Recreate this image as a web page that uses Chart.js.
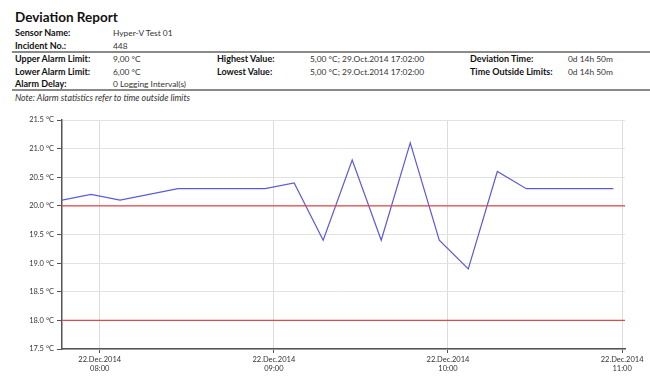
<!DOCTYPE html>
<html>
<head>
<meta charset="utf-8">
<script src="https://cdn.jsdelivr.net/npm/chart.js@4/dist/chart.umd.min.js"></script>
<style>
  html, body { margin: 0; padding: 0; background: #fff; }
  body { width: 650px; height: 388px; position: relative; overflow: hidden; font-family: Lato, "Open Sans", sans-serif; color: #222; }
  .t { position: absolute; white-space: nowrap; font-size: 8.4px; line-height: 10px; color: #333; }
  .b { font-weight: bold; font-size: 9px; color: #111; }
  #title { position: absolute; left: 15px; top: 8px; font-size: 13.5px; font-weight: bold; line-height: 18px; color: #111; }
  .rule { position: absolute; left: 12px; right: 0; height: 2px; background: #8a8a8a; }
  #wrap { position: absolute; left: 0; top: 100px; width: 650px; height: 288px; }
</style>
</head>
<body>
<div id="title">Deviation Report</div>

<div class="t b" style="left:15px;top:28px">Sensor Name:</div>
<div class="t" style="left:113px;top:28px">Hyper-V Test 01</div>
<div class="t b" style="left:15px;top:41px">Incident No.:</div>
<div class="t" style="left:113px;top:41px">448</div>
<div class="rule" style="top:51px"></div>

<div class="t b" style="left:15px;top:54px">Upper Alarm Limit:</div>
<div class="t" style="left:113px;top:54px">9,00 °C</div>
<div class="t b" style="left:217px;top:54px">Highest Value:</div>
<div class="t" style="left:310px;top:54px">5,00 °C; 29.Oct.2014 17:02:00</div>
<div class="t b" style="left:470px;top:54px">Deviation Time:</div>
<div class="t" style="left:568px;top:54px">0d 14h 50m</div>

<div class="t b" style="left:15px;top:67px">Lower Alarm Limit:</div>
<div class="t" style="left:113px;top:67px">6,00 °C</div>
<div class="t b" style="left:217px;top:67px">Lowest Value:</div>
<div class="t" style="left:310px;top:67px">5,00 °C; 29.Oct.2014 17:02:00</div>
<div class="t b" style="left:470px;top:67px">Time Outside Limits:</div>
<div class="t" style="left:568px;top:67px">0d 14h 50m</div>

<div class="t b" style="left:15px;top:79px">Alarm Delay:</div>
<div class="t" style="left:113px;top:79px">0 Logging Interval(s)</div>
<div class="rule" style="top:89px"></div>
<div class="t" style="left:15px;top:93px;font-style:italic;font-size:8.8px">Note: Alarm statistics refer to time outside limits</div>

<div id="wrap"><canvas id="c"></canvas></div>

<script>
// ---- data ----
const times = ['07:47','07:57','08:07','08:27','08:57','09:07','09:17','09:27','09:37','09:47','09:57','10:07','10:17','10:27','10:57'];
const temperatures = [20.1, 20.2, 20.1, 20.3, 20.3, 20.4, 19.4, 20.8, 19.4, 21.1, 19.4, 18.9, 20.6, 20.3, 20.3];
const limitValues = [20.0, 18.0];
const xTickTimes = ['08:00','09:00','10:00','11:00'];
const xTickDate = '22.Dec.2014';
const axisStart = '07:47';
const axisEnd = '11:01';
const yMin = 17.5, yMax = 21.5, yStep = 0.5;

const toMin = s => { const [h, m] = s.split(':').map(Number); return h * 60 + m; };
const xMin = toMin(axisStart), xMax = toMin(axisEnd);
const tickMins = xTickTimes.map(toMin);
const fmtTime = v => String(Math.floor(v / 60)).padStart(2, '0') + ':' + String(v % 60).padStart(2, '0');

const series = times.map((t, i) => ({ x: toMin(t), y: temperatures[i] }));
const limitSets = limitValues.map(v => ({
  data: [{ x: xMin, y: v }, { x: xMax, y: v }],
  borderColor: '#e0484a', borderWidth: 1.3, pointRadius: 0, fill: false
}));

const font = { family: 'Lato, "Open Sans", sans-serif', size: 7.5 };

new Chart(document.getElementById('c'), {
  type: 'line',
  data: {
    datasets: [
      ...limitSets,
      { data: series, borderColor: '#5b5bd6', borderWidth: 1.2, pointRadius: 0, tension: 0, fill: false }
    ]
  },
  options: {
    responsive: true, maintainAspectRatio: false, animation: false,
    layout: { padding: { top: 20, right: 25, left: 0, bottom: 0 } },
    plugins: { legend: { display: false }, tooltip: { enabled: false } },
    scales: {
      x: {
        type: 'linear', min: xMin, max: xMax,
        afterBuildTicks: s => { s.ticks = tickMins.map(v => ({ value: v })); },
        afterFit: s => { s.height = 39; },
        ticks: { callback: v => [xTickDate, fmtTime(v)], font, color: '#333', maxRotation: 0, autoSkip: false, padding: 2 },
        grid: { color: '#dcdcdc', lineWidth: 1, tickLength: 4, tickColor: '#555' },
        border: { color: '#555', width: 1.5 }
      },
      y: {
        min: yMin, max: yMax,
        afterFit: s => { s.width = 62; },
        ticks: { stepSize: yStep, callback: v => v.toFixed(1) + ' °C', font, color: '#333', padding: 3 },
        grid: { color: '#e2e2e2', lineWidth: 1, tickLength: 5, tickColor: '#555' },
        border: { color: '#555', width: 1.5 }
      }
    }
  }
});
</script>
</body>
</html>
